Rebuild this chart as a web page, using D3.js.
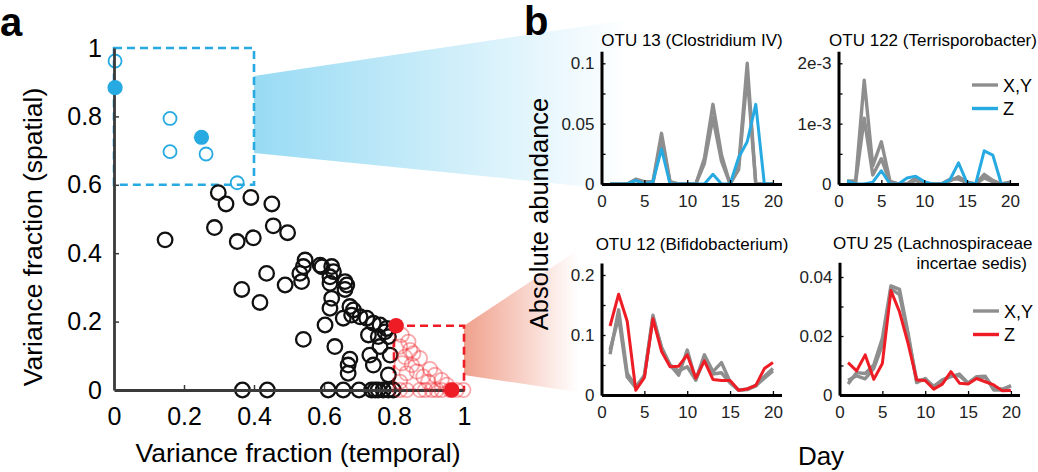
<!DOCTYPE html>
<html><head><meta charset="utf-8">
<script src="https://cdn.jsdelivr.net/npm/d3@7"></script>
<style>
body{margin:0;background:#fff;}
svg{display:block;font-family:"Liberation Sans",Arial,Helvetica,sans-serif;}
</style>
</head><body><svg id="c" width="1038" height="472"></svg>
<script>
// ---------------- DATA ----------------
const scatterTicks = [0, 0.2, 0.4, 0.6, 0.8, 1];
const scatterTickLabels = ["0", "0.2", "0.4", "0.6", "0.8", "1"];

const blackTemporal = [0.298,0.320,0.391,0.451,0.287,0.146,0.352,0.398,0.455,0.496,0.436,0.365,0.417,0.489,0.541,0.367,0.438,0.612,
  0.546,0.541,0.531,0.536,0.589,0.594,0.622,0.627,0.617,0.617,0.660,0.665,0.660,0.622,0.617,0.674,0.684,0.679,0.655,0.703,0.722,0.741,0.760,0.779,0.603,0.727,0.755,0.631,0.674,0.669,0.669,0.731,0.741,0.760,0.789,0.784,0.774,0.784,
  0.655,0.700,0.736,0.746,0.755,0.769,0.784,0.798];
const blackSpatial = [0.577,0.544,0.563,0.544,0.475,0.439,0.434,0.445,0.480,0.460,0.341,0.294,0.256,0.307,0.148,0,0,0,
  0.380,0.361,0.341,0.317,0.365,0.360,0.361,0.346,0.331,0.312,0.317,0.307,0.294,0.268,0.239,0.244,0.234,0.219,0.210,0.214,0.210,0.195,0.190,0.180,0.190,0.161,0.156,0.127,0.090,0.073,0.049,0.102,0.073,0.127,0.102,0.044,0.170,0.156,
  0,0,0,0,0,0,0,0];

const blueOpenTemporal = [0.003,0.160,0.160,0.263,0.352];
const blueOpenSpatial  = [0.962,0.794,0.697,0.690,0.606];
const blueFilledTemporal = [0.003,0.250];
const blueFilledSpatial  = [0.884,0.739];

const redFadedTemporal = [0.822,0.841,0.817,0.846,0.855,0.831,0.874,0.822,0.851,0.903,0.865,0.836,0.917,0.884,0.936,0.951,0.898,0.817,
  0.817,0.836,0.874,0.889,0.908,0.922,0.936,0.960,0.979,0.998];
const redFadedSpatial  = [0.161,0.141,0.127,0.117,0.107,0.097,0.093,0.078,0.073,0.061,0.054,0.049,0.044,0.039,0.029,0.015,0.024,0.024,
  0,0,0,0,0,0,0,0,0,0];
const redFilledTemporal = [0.806,0.965];
const redFilledSpatial  = [0.188,0];

const blueBox = [0, 0.4, 0.6, 1];      // x0,x1,y0,y1 (data units)
const redBox  = [0.8, 1.0, 0, 0.188];

const days = d3.range(1, 21);

const otu13_xyA = [0,0,0,0.004,0.002,0.002,0.042,0.002,0,0,0,0.021,0.066,0.024,0,0.015,0.100,0,0,0];
const otu13_xyB = [0,0,0,0.003,0.001,0.001,0.036,0.001,0,0,0,0.017,0.055,0.019,0,0.012,0.090,0,0,0];
const otu13_z   = [0,0,0,0.003,0,0.002,0.029,0,0,0,0,0,0.008,0,0,0.022,0.035,0.066,0,0];
const otu13_ticks = [0,0.025,0.05,0.075,0.1];
const otu13_labels = ["0","","0.05","","0.1"];

const otu122_xyA = [0.00005,0.00005,0.00172,0.0003,0.0007,0.00005,0,0,0.0001,0,0,0,0.00005,0.00012,0.00003,0,0.00016,0.00006,0,0.00003];
const otu122_xyB = [0.00003,0.00003,0.00109,0.00015,0.00042,0.00003,0,0,0.00006,0,0,0,0.00008,0.00008,0.00002,0,0.0001,0.00004,0,0.00002];
const otu122_z   = [0.00005,0,0,0.00003,0.00022,0,0,0.0001,0.00013,0.00004,0,0,0.00007,0.00035,0.00002,0,0.00055,0.00048,0,0];
const otu122_ticks = [0,0.0005,0.001,0.0015,0.002];
const otu122_labels = ["0","","1e-3","","2e-3"];

const otu12_xyA = [0.068,0.142,0.036,0.014,0.031,0.133,0.078,0.050,0.033,0.075,0.025,0.067,0.039,0.054,0.022,0.008,0.009,0.015,0.031,0.044];
const otu12_xyB = [0.075,0.130,0.030,0.012,0.033,0.128,0.080,0.050,0.040,0.047,0.025,0.060,0.035,0.037,0.020,0.008,0.010,0.016,0.028,0.040];
const otu12_z   = [0.115,0.168,0.123,0.008,0.029,0.127,0.073,0.047,0.048,0.067,0.028,0.057,0.026,0.024,0.024,0.008,0.010,0.016,0.044,0.054];
const otu12_ticks = [0,0.05,0.1,0.15,0.2];
const otu12_labels = ["0","","0.1","","0.2"];

const otu25_xyA = [0.0037,0.0076,0.0073,0.0102,0.0192,0.037,0.0358,0.021,0.0042,0.0056,0.0028,0.0051,0.0062,0.0071,0.004,0.0062,0.0064,0.0017,0.0017,0.0032];
const otu25_xyB = [0.005,0.0065,0.0055,0.009,0.017,0.036,0.034,0.020,0.005,0.005,0.003,0.005,0.0065,0.0065,0.004,0.006,0.006,0.0025,0.002,0.003];
const otu25_z   = [0.011,0.0082,0.0136,0.0053,0.0107,0.0354,0.0282,0.0175,0.0051,0.0049,0.002,0.0037,0.0079,0.004,0.0037,0.0056,0.0045,0.0034,0.0014,0.0015];
const otu25_ticks = [0,0.01,0.02,0.03,0.04];
const otu25_labels = ["0","","0.02","","0.04"];

const dayTicks = [0,5,10,15,20];
const legendLabels = ["X,Y","Z"];

// ---------------- DRAW ----------------
const svg = d3.select("#c");
const BLUE = "#27aae1", RED = "#ee1c25", GRAY = "#8e8e8e";

const xS = d3.scaleLinear([0,1],[114,464]);
const yS = d3.scaleLinear([0,1],[390,48]);

const defs = svg.append("defs");
const gB = defs.append("linearGradient").attr("id","gBlue").attr("gradientUnits","userSpaceOnUse")
  .attr("x1",xS(0.4)).attr("x2",630).attr("y1",0).attr("y2",0);
gB.append("stop").attr("offset",0).attr("stop-color","#98dbf4");
gB.append("stop").attr("offset",1).attr("stop-color","#ffffff");
const gR = defs.append("linearGradient").attr("id","gRed").attr("gradientUnits","userSpaceOnUse")
  .attr("x1",xS(1)).attr("x2",578).attr("y1",0).attr("y2",0);
gR.append("stop").attr("offset",0).attr("stop-color","#f0a08c");
gR.append("stop").attr("offset",1).attr("stop-color","#ffffff");

// funnels
const bx = xS(blueBox[1]);
svg.append("path").attr("fill","url(#gBlue)")
  .attr("d",`M${bx},${yS(0.918)} L660,15 L660,194 L${bx},${yS(0.693)} Z`);
const rx = xS(redBox[1]);
svg.append("path").attr("fill","url(#gRed)")
  .attr("d",`M${rx},${yS(0.188)} L590,242 L590,394 L${rx},${yS(0.044)} Z`);

// panel letters
svg.append("text").attr("x",0).attr("y",36).attr("font-size",40).attr("font-weight","bold").text("a");
svg.append("text").attr("x",524).attr("y",35).attr("font-size",40).attr("font-weight","bold").text("b");

// scatter dashed boxes
function dashBox(b, col){
  svg.append("rect").attr("x",xS(b[0])).attr("y",yS(b[3]))
    .attr("width",xS(b[1])-xS(b[0])).attr("height",yS(b[2])-yS(b[3]))
    .attr("fill","none").attr("stroke",col).attr("stroke-width",2.6).attr("stroke-dasharray","8,5");
}
dashBox(blueBox, BLUE);
dashBox(redBox, RED);

// black circles
const gS = svg.append("g");
gS.selectAll("circle.bk").data(blackTemporal).join("circle")
  .attr("cx",(d)=>xS(d)).attr("cy",(d,i)=>yS(blackSpatial[i])).attr("r",7.3)
  .attr("fill","none").attr("stroke","#111").attr("stroke-width",2.3);

// axes of scatter
const axX = d3.axisBottom(xS).tickValues(scatterTicks).tickFormat((d,i)=>scatterTickLabels[i])
  .tickSizeInner(-5).tickSizeOuter(0).tickPadding(17);
const axY = d3.axisLeft(yS).tickValues(scatterTicks).tickFormat((d,i)=>scatterTickLabels[i])
  .tickSizeInner(-5).tickSizeOuter(0).tickPadding(12);
function styleAxis(g, col, w, fs){
  g.select(".domain").attr("stroke",col).attr("stroke-width",w);
  g.selectAll(".tick line").attr("stroke",col).attr("stroke-width",1.5);
  g.selectAll(".tick text").attr("fill","#000").attr("font-size",fs).attr("font-family","Liberation Sans, Arial, sans-serif");
}
const gx = svg.append("g").attr("transform","translate(0,390)").call(axX);
styleAxis(gx,"#3a3a3a",2.8,25);
gx.selectAll(".tick").filter(d=>d===0||d===1).select("line").remove();
const gy = svg.append("g").attr("transform","translate(114,0)").call(axY);
styleAxis(gy,"#3a3a3a",2.8,25);
gy.selectAll(".tick").filter(d=>d===0||d===1).select("line").remove();

// blue and red points
gS.append("g").selectAll("circle").data(blueOpenTemporal).join("circle")
  .attr("cx",d=>xS(d)).attr("cy",(d,i)=>yS(blueOpenSpatial[i])).attr("r",6.5)
  .attr("fill","none").attr("stroke",BLUE).attr("stroke-width",1.8);
svg.append("g").selectAll("circle").data(redFadedTemporal).join("circle")
  .attr("cx",d=>xS(d)).attr("cy",(d,i)=>yS(redFadedSpatial[i])).attr("r",7.2)
  .attr("fill","none").attr("stroke",RED).attr("stroke-width",1.8).attr("stroke-opacity",0.38);
svg.append("g").selectAll("circle").data(blueFilledTemporal).join("circle")
  .attr("cx",d=>xS(d)).attr("cy",(d,i)=>yS(blueFilledSpatial[i])).attr("r",7.6).attr("fill",BLUE);
svg.append("g").selectAll("circle").data(redFilledTemporal).join("circle")
  .attr("cx",d=>xS(d)).attr("cy",(d,i)=>yS(redFilledSpatial[i])).attr("r",7.8).attr("fill",RED);

// scatter axis titles
svg.append("text").attr("x",298).attr("y",462).attr("text-anchor","middle").attr("font-size",26.5)
  .text("Variance fraction (temporal)");
svg.append("text").attr("transform","translate(42,237) rotate(-90)").attr("text-anchor","middle").attr("font-size",26.5)
  .text("Variance fraction (spatial)");

// ---------------- small panels ----------------
function panel(o){
  const x = d3.scaleLinear([0,21],[o.x0, o.x0+180]);
  const y = d3.scaleLinear([0,o.ymax],[o.y0, o.y0 - o.ymax*o.pxPerUnit]);
  const g = svg.append("g");
  const line = d3.line().x((d,i)=>x(days[i])).y(d=>y(d));
  [o.a,o.b].forEach(s=>g.append("path").datum(s).attr("d",line)
     .attr("fill","none").attr("stroke",GRAY).attr("stroke-width",3.4).attr("stroke-linejoin","round"));
  g.append("path").datum(o.z).attr("d",line).attr("fill","none").attr("stroke",o.col)
     .attr("stroke-width",3).attr("stroke-linejoin","round");
  const ax = d3.axisBottom(x).tickValues(dayTicks).tickSizeInner(-4).tickSizeOuter(0).tickPadding(11);
  const ay = d3.axisLeft(y).tickValues(o.ticks).tickFormat((d,i)=>o.labels[i]).tickSizeInner(-4).tickSizeOuter(0).tickPadding(7);
  const gxx = g.append("g").attr("transform",`translate(0,${o.y0})`).call(ax);
  const gyy = g.append("g").attr("transform",`translate(${o.x0},0)`).call(ay);
  [gxx,gyy].forEach(a=>{
    a.select(".domain").attr("stroke","#000").attr("stroke-width",3);
    a.selectAll(".tick line").attr("stroke","#000").attr("stroke-width",1.3);
    a.selectAll(".tick text").attr("fill","#222").attr("font-size",17).attr("font-family","Liberation Sans, Arial, sans-serif");
  });
  o.title.forEach(t=>g.append("text").attr("x",t[0]).attr("y",t[1]).attr("text-anchor",t[2])
     .attr("font-size",17).text(t[3]));
  if(o.legend){
    const L = o.legend;
    [GRAY,o.col].forEach((c,i)=>{
      g.append("line").attr("x1",L[0]).attr("x2",L[0]+26).attr("y1",L[1]+i*23.5).attr("y2",L[1]+i*23.5)
        .attr("stroke",c).attr("stroke-width",3.4);
      g.append("text").attr("x",L[0]+31).attr("y",L[1]+i*23.5+6.5).attr("font-size",18).text(legendLabels[i]);
    });
  }
}
panel({x0:601.5,y0:184,ymax:0.11,pxPerUnit:1207,a:otu13_xyA,b:otu13_xyB,z:otu13_z,col:BLUE,
  ticks:otu13_ticks,labels:otu13_labels,title:[[692,46,"middle","OTU 13 (Clostridium IV)"]]});
panel({x0:838.5,y0:184,ymax:0.0022,pxPerUnit:60350,a:otu122_xyA,b:otu122_xyB,z:otu122_z,col:BLUE,
  ticks:otu122_ticks,labels:otu122_labels,title:[[933,46,"middle","OTU 122 (Terrisporobacter)"]],legend:[972,85]});
panel({x0:601.5,y0:395,ymax:0.22,pxPerUnit:600,a:otu12_xyA,b:otu12_xyB,z:otu12_z,col:RED,
  ticks:otu12_ticks,labels:otu12_labels,title:[[692,250,"middle","OTU 12 (Bifidobacterium)"]]});
panel({x0:839.5,y0:395,ymax:0.045,pxPerUnit:2950,a:otu25_xyA,b:otu25_xyB,z:otu25_z,col:RED,
  ticks:otu25_ticks,labels:otu25_labels,
  title:[[833,249,"start","OTU 25 (Lachnospiraceae"],[1027,269,"end","incertae sedis)"]],legend:[973,311]});

svg.append("text").attr("transform","translate(548,214) rotate(-90)").attr("text-anchor","middle")
  .attr("font-size",25.5).text("Absolute abundance");
svg.append("text").attr("x",821).attr("y",465).attr("text-anchor","middle").attr("font-size",26).text("Day");
</script></body></html>
